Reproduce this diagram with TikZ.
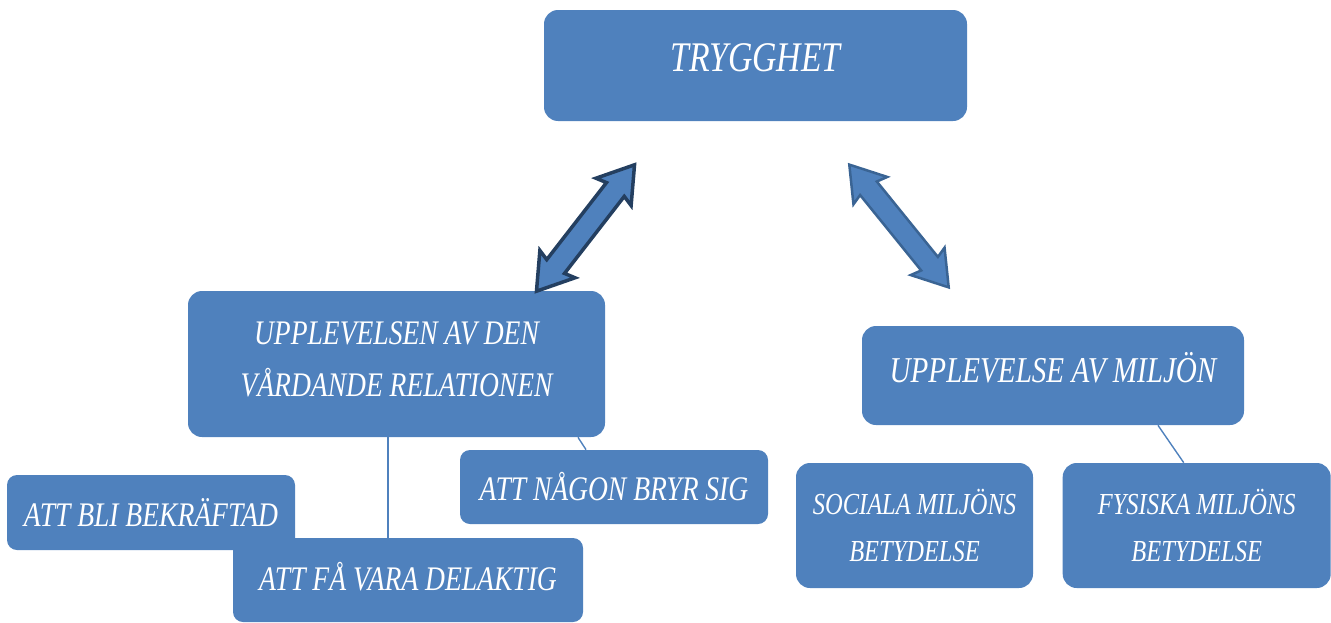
\documentclass[tikz,border=0pt]{standalone}
\usepackage{fontspec}
\setmainfont{Liberation Serif}[FakeStretch=0.8]
\usetikzlibrary{positioning, shapes.arrows}

\definecolor{boxblue}{HTML}{4F81BD}
\definecolor{navyedge}{HTML}{243F60}
\definecolor{steeledge}{HTML}{3A6494}
\newlength\px
\setlength\px{0.02cm}

\begin{document}
\begin{tikzpicture}[
    x=1\px, y=-1\px,
    box/.style={rounded corners=14\px, fill=boxblue, text=white,
                align=center, inner sep=0pt},
    small/.style={box, rounded corners=10\px},
    link/.style={draw=boxblue, line width=1.4\px},
    twoway/.style={double arrow, fill=boxblue, inner xsep=0pt, inner ysep=9.5\px,
                   double arrow head extend=11\px,
                   double arrow tip angle=66, double arrow head indent=3\px},
    bigfont/.style={font=\fontsize{24}{29}\selectfont\itshape},
    midfont/.style={font=\fontsize{19.6}{29.5}\selectfont\itshape},
    envfont/.style={font=\fontsize{20.7}{29}\selectfont\itshape},
    subfont/.style={font=\fontsize{17.4}{26.6}\selectfont\itshape},
]
\useasboundingbox (0,0) rectangle (1331,622);

\node[box, bigfont, minimum width=423\px, minimum height=111\px,
      text height=17pt, text depth=10pt] (trygg) at (755.5,65.5) {TRYGGHET};

\node[box, midfont, minimum width=417\px, minimum height=146\px,
      text depth=5.7pt] (relation) at (396.5,364) {UPPLEVELSEN AV DEN\\VÅRDANDE RELATIONEN};
\node[box, envfont, minimum width=382\px, minimum height=99\px,
      text depth=9pt] (miljo) at (1053,375.5) {UPPLEVELSE AV MILJÖN};

\node[small, midfont, minimum width=308\px, minimum height=74\px]
      (bryr) at (614,487) {ATT NÅGON BRYR SIG};
\node[small, midfont, minimum width=288\px, minimum height=75\px]
      (bekraftad) at (151,512.5) {ATT BLI BEKRÄFTAD};
\node[small, midfont, minimum width=350\px, minimum height=84\px,
      text depth=4.5pt] (delaktig) at (408,580) {ATT FÅ VARA DELAKTIG};

\node[box, subfont, minimum width=237\px, minimum height=125\px]
      (social) at (914.5,525.5) {SOCIALA MILJÖNS\\BETYDELSE};
\node[box, subfont, minimum width=268\px, minimum height=125\px,
      right=29\px of social] (fysisk) {FYSISKA MILJÖNS\\BETYDELSE};

% thin links from the two themes down to their parts
\draw[link] ([xshift=-8.5\px]relation.south) -- ([xshift=-8.5\px]relation.south |- delaktig.north);
\draw[link] ([xshift=181.5\px]relation.south) -- ([xshift=-28\px]bryr.north);
\draw[link] ([xshift=105\px]miljo.south) -- ([xshift=-13\px]fysisk.north);

% block arrows to and from the top
\node[twoway, draw=navyedge, line width=3.5\px, minimum height=160\px,
      rotate=52.2] (upleft) at (585.5,228) {};
\node[twoway, draw=steeledge, line width=2.5\px, minimum height=158\px,
      rotate=-51] (upright) at (899,226) {};

\end{tikzpicture}
\end{document}
